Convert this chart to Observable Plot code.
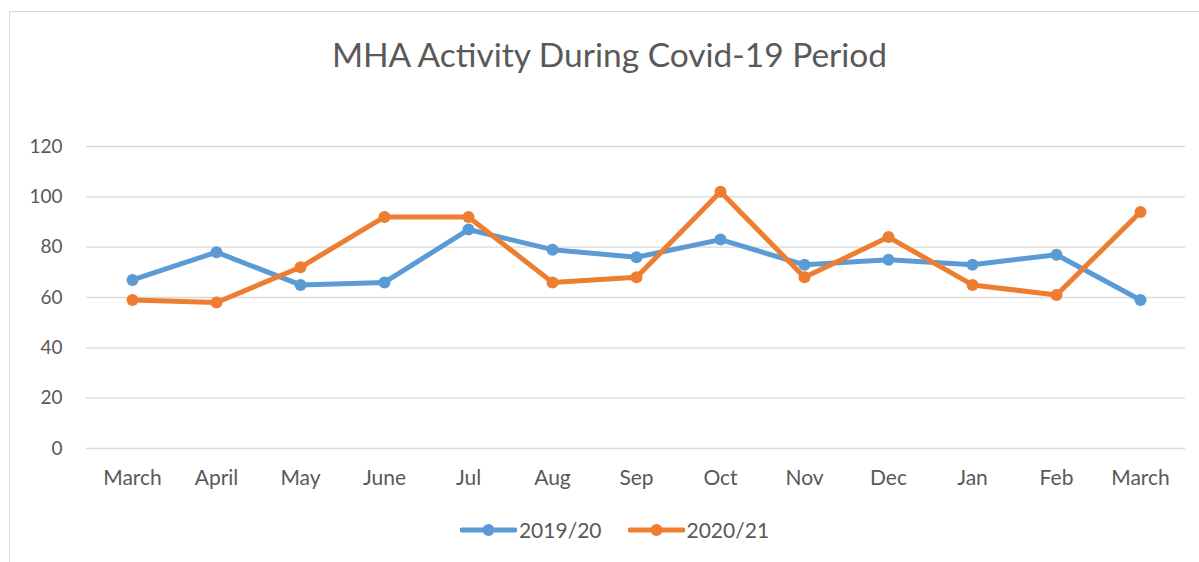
<!DOCTYPE html>
<html>
<head>
<meta charset="utf-8">
<script src="https://cdn.jsdelivr.net/npm/d3@7"></script>
<script src="https://cdn.jsdelivr.net/npm/@observablehq/plot@0.6"></script>
<style>
  html, body { margin: 0; padding: 0; background: #fff; }
  #wrap { position: relative; width: 1199px; height: 562px; overflow: hidden; font-family: Lato, "Open Sans", sans-serif; color: #595959; }
  #border { position: absolute; left: 9px; top: 11px; width: 1200px; height: 570px; border: 1px solid #d9d9d9; box-sizing: border-box; }
  #title { position: absolute; left: 0; width: 1219px; top: 34px; text-align: center; font-size: 33.5px; line-height: 40px; color: #595959; }
  #chart { position: absolute; left: 0; top: 0; }
  #legend { position: absolute; top: 517px; left: 0; width: 1229px; display: flex; justify-content: center; gap: 26px; font-size: 21px; line-height: 26px; }
  .item { display: flex; align-items: center; }
</style>
</head>
<body>
<div id="wrap">
  <div id="border"></div>
  <div id="title">MHA Activity During Covid-19 Period</div>
  <div id="chart"></div>
  <div id="legend"></div>
</div>
<script>
const months = ["March","April","May","June","Jul","Aug","Sep","Oct","Nov","Dec","Jan","Feb","March"];
const series = ["2019/20", "2020/21"];
const values2019 = [67, 78, 65, 66, 87, 79, 76, 83, 73, 75, 73, 77, 59];
const values2020 = [59, 58, 72, 92, 92, 66, 68, 102, 68, 84, 65, 61, 94];
const colors = ["#5B9BD5", "#ED7D31"];
const yTicks = [0, 20, 40, 60, 80, 100, 120];

const data = [];
months.forEach((m, i) => {
  data.push({i, month: m, series: series[0], value: values2019[i]});
  data.push({i, month: m, series: series[1], value: values2020[i]});
});

const plot = Plot.plot({
  width: 1199,
  height: 562,
  marginTop: 146,
  marginBottom: 114,
  marginLeft: 86,
  marginRight: 14,
  style: {fontFamily: "Lato, 'Open Sans', sans-serif", color: "#595959", background: "transparent"},
  x: {type: "point", domain: d3.range(months.length), padding: 0.5, label: null},
  y: {domain: [0, 120], label: null},
  color: {domain: series, range: colors},
  marks: [
    Plot.gridY(yTicks, {stroke: "#d9d9d9", strokeOpacity: 1, strokeWidth: 1.3}),
    Plot.axisY(yTicks, {tickSize: 0, tickPadding: 24, fontSize: 19, fill: "#595959", label: null}),
    Plot.axisX(d3.range(months.length), {tickSize: 0, tickPadding: 22, fontSize: 21, fill: "#595959", tickFormat: i => months[i], label: null}),
    Plot.line(data, {x: "i", y: "value", stroke: "series", z: "series", strokeWidth: 5, strokeLinejoin: "round", strokeLinecap: "round"}),
    Plot.dot(data, {x: "i", y: "value", fill: "series", r: 6, stroke: null})
  ]
});
document.getElementById("chart").appendChild(plot);

const legend = document.getElementById("legend");
series.forEach((s, k) => {
  const item = document.createElement("div");
  item.className = "item";
  item.innerHTML = `<svg width="57" height="14" style="margin-right:2px"><line x1="2" x2="55" y1="7" y2="7" stroke="${colors[k]}" stroke-width="5" stroke-linecap="round"/><circle cx="28.5" cy="7" r="6" fill="${colors[k]}"/></svg><span>${s}</span>`;
  legend.appendChild(item);
});
</script>
</body>
</html>
